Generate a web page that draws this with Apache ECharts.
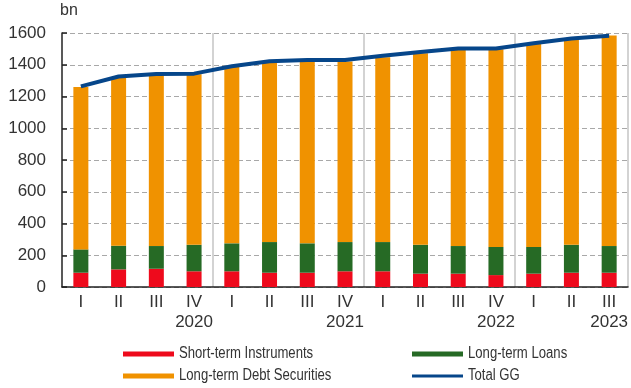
<!DOCTYPE html>
<html>
<head>
<meta charset="utf-8">
<script src="https://cdn.jsdelivr.net/npm/echarts@6/dist/echarts.min.js"></script>
<style>
  html, body { margin: 0; padding: 0; background: #fff; }
  #chart { width: 631px; height: 388px; }
</style>
</head>
<body>
<div id="chart"></div>
<script>
// General government debt by instrument, quarterly, bn
const quarters = ['I', 'II', 'III', 'IV', 'I', 'II', 'III', 'IV', 'I', 'II', 'III', 'IV', 'I', 'II', 'III'];
const years = ['2020', '2020', '2020', '2020', '2021', '2021', '2021', '2021',
               '2022', '2022', '2022', '2022', '2023', '2023', '2023'];

const shortTerm = [90, 111, 115, 99, 99, 90, 90, 99, 99, 84, 84, 75, 84, 90, 90];
const longTermLoans = [147, 149, 143, 167, 176, 193, 185, 184, 184, 182, 174, 177, 168, 176, 168];
const longTermDebtSecurities = [1023, 1059, 1077, 1074, 1111, 1134, 1148, 1138, 1164, 1207, 1239, 1245, 1278, 1297, 1327];
const totalGG = [1264, 1326, 1342, 1344, 1390, 1422, 1430, 1430, 1457, 1481, 1503, 1503, 1536, 1566, 1582];

const yTicks = { min: 0, max: 1600, step: 200 };

const COLORS = {
  short: '#ee0a1c',
  loans: '#266a25',
  debt: '#f09200',
  total: '#06468a'
};

const TEXT = '#333333';
const FONT = "'Liberation Sans', Arial, sans-serif";

const chart = echarts.init(document.getElementById('chart'), null, { renderer: 'canvas' });

function barSeries(name, data, color) {
  return {
    name: name,
    type: 'bar',
    stack: 'debt',
    barWidth: 15,
    data: data,
    itemStyle: { color: color },
    emphasis: { disabled: true }
  };
}

// Key below the plot: two columns, condensed type, wide flat swatches
const keyItems = [
  { name: 'Short-term Instruments', color: COLORS.short, col: 0, row: 0, thick: 5 },
  { name: 'Long-term Debt Securities', color: COLORS.debt, col: 0, row: 1, thick: 5 },
  { name: 'Long-term Loans', color: COLORS.loans, col: 1, row: 0, thick: 5 },
  { name: 'Total GG', color: COLORS.total, col: 1, row: 1, thick: 3 }
];
const keyCols = [123, 412];
const keyRows = [354, 376];
const keyGraphics = [];
keyItems.forEach((k) => {
  const x = keyCols[k.col];
  const y = keyRows[k.row];
  keyGraphics.push({
    type: 'rect',
    x: x, y: y - k.thick / 2,
    shape: { x: 0, y: 0, width: 51, height: k.thick },
    style: { fill: k.color },
    silent: true
  });
  keyGraphics.push({
    type: 'text',
    x: x + 56, y: y,
    scaleX: 0.82,
    style: { text: k.name, font: '16px ' + FONT, fill: TEXT, verticalAlign: 'middle', align: 'left' },
    silent: true
  });
});

const option = {
  animation: false,
  backgroundColor: '#ffffff',
  textStyle: { fontFamily: FONT, color: TEXT },
  grid: { left: 62, right: 1, top: 33, bottom: 101, containLabel: false },
  graphic: [{
    type: 'text',
    left: 60,
    top: 3,
    style: { text: 'bn', font: '16px ' + FONT, fill: TEXT }
  }].concat(keyGraphics),
  xAxis: {
    type: 'category',
    data: quarters.map((q, i) => i),
    boundaryGap: true,
    axisLine: { show: true, lineStyle: { color: '#222', width: 1.5 } },
    axisTick: { show: false },
    splitLine: {
      show: true,
      interval: (idx) => idx > 0 && years[idx] !== years[idx - 1],
      lineStyle: { color: '#c4c4c4', width: 1.5, type: 'solid' }
    },
    axisLabel: {
      interval: 0,
      margin: 5,
      formatter: (v) => {
        const i = Number(v);
        const lastOfYear = i === years.length - 1 || years[i + 1] !== years[i];
        return lastOfYear ? '{q|' + quarters[i] + '}\n{y|' + years[i] + '}' : '{q|' + quarters[i] + '}';
      },
      rich: {
        q: { fontFamily: FONT, fontSize: 17, color: TEXT, lineHeight: 20 },
        y: { fontFamily: FONT, fontSize: 17, color: TEXT, lineHeight: 20 }
      }
    }
  },
  yAxis: {
    type: 'value',
    min: yTicks.min,
    max: yTicks.max,
    interval: yTicks.step,
    axisLine: { show: true, lineStyle: { color: '#222', width: 1.5 } },
    axisTick: { show: true, inside: true, length: 5, lineStyle: { color: '#222', width: 1.5 } },
    axisLabel: { margin: 16, fontFamily: FONT, fontSize: 17, color: TEXT, formatter: (v) => String(v) },
    splitLine: { show: true, lineStyle: { color: '#a8a8a8', type: [5, 3], width: 1 } }
  },
  series: [
    barSeries('Short-term Instruments', shortTerm, COLORS.short),
    barSeries('Long-term Loans', longTermLoans, COLORS.loans),
    barSeries('Long-term Debt Securities', longTermDebtSecurities, COLORS.debt),
    {
      name: 'Total GG',
      type: 'line',
      data: totalGG,
      symbol: 'none',
      z: 5,
      lineStyle: { color: COLORS.total, width: 4 },
      itemStyle: { color: COLORS.total },
      emphasis: { disabled: true }
    }
  ]
};

chart.setOption(option);
</script>
</body>
</html>
